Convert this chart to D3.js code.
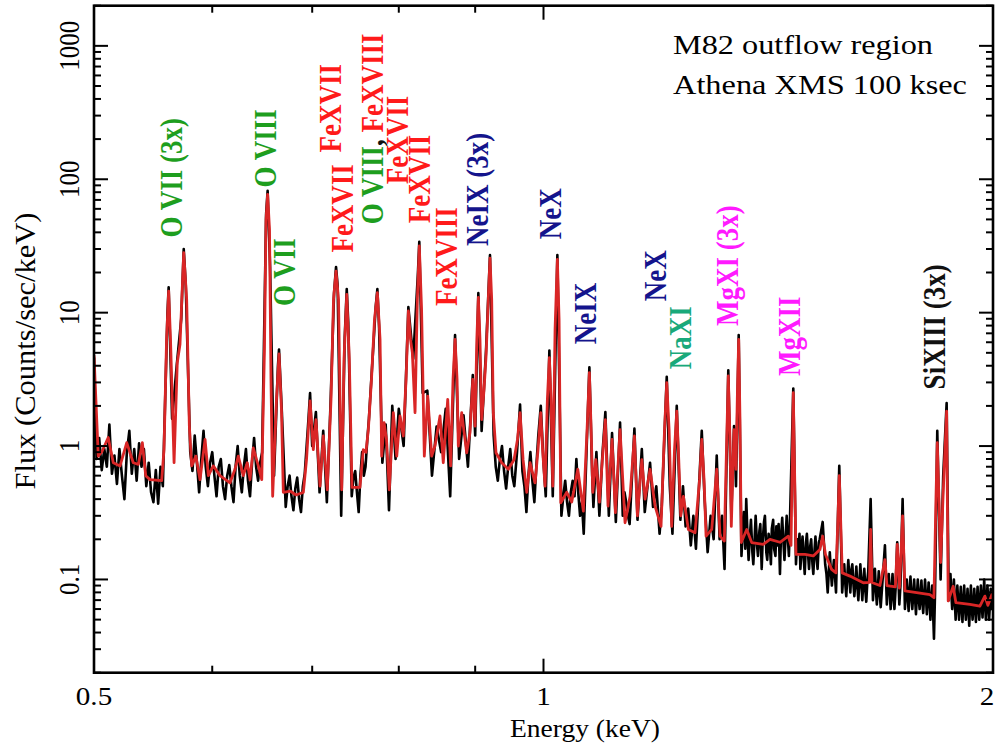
<!DOCTYPE html>
<html>
<head>
<meta charset="utf-8">
<script src="https://cdn.jsdelivr.net/npm/d3@7"></script>
<style>
  body { margin: 0; background: #fff; }
  svg { display: block; }
  text { font-family: "Liberation Serif", "Times New Roman", serif; }
</style>
</head>
<body>
<svg id="spectrum" width="995" height="744"></svg>
<script>
// Model curve (red), keV and counts/sec/keV
const modelEnergy = [0.500,0.5033,0.5062,0.5111,0.5151,0.5205,0.5259,0.5312,0.5354,0.5387,
  0.5415,0.5451,0.5550,0.5570,0.5592,0.5610,0.5626,0.5657,0.5685,0.5709,
  0.5742,0.5768,0.5792,0.5813,0.5851,0.5888,0.5934,0.5964,0.6010,0.6072,
  0.6167,0.6214,0.6246,0.6294,0.6333,0.6360,0.6392,0.6442,0.6476,0.6503,
  0.6519,0.6535,0.6554,0.6569,0.6586,0.6625,0.6651,0.6676,0.6695,0.6765,
  0.6828,0.6905,0.6939,0.6977,0.7012,0.7041,0.7085,0.7121,0.7165,0.7206,
  0.7234,0.7262,0.7290,0.7310,0.7326,0.7352,0.7383,0.7412,0.7443,0.7535,
  0.7574,0.7605,0.7633,0.7670,0.7706,0.7740,0.7772,0.7792,0.7820,0.7850,
  0.7884,0.7933,0.7975,0.8015,0.8056,0.8090,0.8119,0.8146,0.8169,0.8203,
  0.8232,0.8257,0.8286,0.8321,0.8365,0.8416,0.8459,0.8525,0.8568,0.8627,
  0.8666,0.8698,0.8725,0.8752,0.8769,0.8815,0.8883,0.8929,0.8967,0.8998,
  0.9023,0.9044,0.9067,0.9091,0.9124,0.9152,0.9184,0.9208,0.9232,0.9255,
  0.9294,0.9376,0.9472,0.9556,0.9607,0.9645,0.9690,0.9745,0.9795,0.9871,
  0.9916,0.9958,0.9986,1.0024,1.0060,1.0091,1.0117,1.0144,1.0180,1.0216,
  1.0243,1.0270,1.0365,1.0445,1.0543,1.0634,1.0695,1.0733,1.0762,1.0790,
  1.0840,1.0900,1.0950,1.1001,1.1046,1.1115,1.1172,1.1253,1.1340,1.1428,
  1.1505,1.1558,1.1637,1.1695,1.1786,1.1877,1.1987,1.2052,1.2093,1.2137,
  1.2186,1.2239,1.2281,1.2319,1.2357,1.2407,1.2503,1.2633,1.2721,1.2764,
  1.2809,1.2849,1.2962,1.3062,1.3129,1.3216,1.3260,1.3297,1.3332,1.3359,
  1.3415,1.3456,1.3483,1.3512,1.3539,1.3566,1.3680,1.3786,1.4034,1.4180,
  1.4400,1.4586,1.4647,1.4699,1.4760,1.4966,1.5159,1.5316,1.5380,1.5447,
  1.5594,1.5699,1.5746,1.5779,1.5812,1.5852,1.6041,1.6373,1.6530,1.6561,
  1.6594,1.6800,1.6930,1.6982,1.7206,1.7254,1.7313,1.7398,1.7461,1.7732,
  1.8147,1.8259,1.8316,1.8353,1.8400,1.8448,1.8522,1.8620,1.8665,1.8809,
  1.8888,1.9300,1.9600,1.9751,1.9843,2.000];
const modelFlux = [4.79,0.84,0.91,1.16,0.75,0.71,1.06,0.75,0.73,1.06,
  0.60,0.56,0.55,0.94,6.3,14.5,6.3,0.75,4.2,5.8,
  28.2,12.6,1.41,0.71,0.84,0.56,1.12,0.60,0.71,0.60,
  0.53,0.67,0.84,0.60,0.75,0.56,0.97,0.71,0.56,5.3,
  50,77,42,3.2,0.42,2.24,4.9,1.88,0.45,0.46,
  0.43,0.45,0.79,2.18,0.94,1.58,0.50,1.19,0.47,2.24,
  12.6,20.5,12.6,1.58,0.47,4.5,13.7,4.5,0.49,0.49,
  0.94,0.90,1.33,3.16,8.9,14.1,6.3,0.84,1.50,1.12,
  0.47,1.78,0.84,1.68,1.19,3.16,10.3,6.3,5.0,1.78,
  12.6,31.6,10.6,0.84,2.37,0.84,1.0,1.68,0.75,2.24,
  0.71,3.16,6.3,3.16,1.0,1.78,0.89,1.27,3.16,1.41,
  6.3,13.0,6.3,1.58,2.66,4.7,12.6,25.6,12.6,1.78,
  0.89,0.75,0.67,0.79,1.12,1.78,0.79,0.45,0.75,0.53,
  0.94,1.78,0.94,0.50,2.24,4.6,2.24,0.50,7.5,25.1,
  8.9,0.376,0.45,0.38,0.67,0.325,1.33,3.55,1.33,0.45,
  0.79,0.38,0.79,1.58,0.355,1.12,0.317,1.33,0.266,0.42,
  1.19,0.30,0.79,0.40,0.67,0.355,0.25,1.33,2.99,1.33,
  0.25,0.94,1.83,0.79,0.30,0.42,0.237,0.224,0.56,1.12,
  0.56,0.211,0.237,0.67,0.211,0.194,0.94,3.35,1.12,0.25,
  1.33,0.67,2.24,6.3,1.58,0.189,0.237,0.189,0.183,0.20,
  0.19,0.211,0.18,2.51,0.154,0.154,0.150,0.168,0.211,0.154,
  0.119,0.112,0.28,0.60,0.28,0.112,0.106,0.0945,0.095,0.237,
  0.095,0.090,0.141,0.090,0.088,0.183,0.086,0.30,0.082,0.080,
  0.077,0.073,0.40,1.06,0.40,0.134,0.45,1.83,0.069,0.089,
  0.067,0.065,0.063,0.075,0.064,0.081];

// Observed counts (black), [keV, counts/sec/keV]
const observed = [
  [0.500,4.6],[0.502,0.8],[0.504,1.15],[0.506,0.66],[0.508,0.95],[0.510,0.7],[0.512,1.45],[0.514,0.62],
  [0.516,0.85],[0.518,0.52],[0.520,0.95],[0.522,0.6],[0.524,0.4],[0.526,0.9],[0.528,1.3],[0.530,0.62],
  [0.532,0.95],[0.534,0.55],[0.536,1.05],[0.538,0.7],[0.540,0.95],[0.542,0.5],[0.544,0.75],[0.546,0.45],
  [0.548,0.38],[0.550,0.66],[0.552,0.37],[0.554,0.7],[0.556,0.5],[0.560,10],[0.561,15.5],[0.564,1.6],
  [0.568,4.0],[0.572,9],[0.5742,30],[0.576,16],
  [0.580,0.9],[0.582,0.65],[0.584,1.2],[0.586,0.75],[0.588,0.45],[0.590,0.8],[0.592,1.3],[0.594,0.7],
  [0.596,0.5],[0.598,0.75],[0.600,0.9],[0.602,0.6],[0.604,0.42],[0.606,0.7],[0.608,0.8],[0.610,0.5],
  [0.612,0.4],[0.614,0.6],[0.616,0.72],[0.618,0.5],[0.620,0.38],[0.622,0.7],[0.624,1.0],[0.626,0.6],
  [0.628,0.45],[0.630,0.7],[0.632,0.95],[0.634,0.55],[0.636,0.42],[0.638,0.75],[0.640,1.15],[0.642,0.7],
  [0.644,0.55],[0.646,0.75],[0.648,0.9],[0.652,55],[0.6535,82],[0.656,22],[0.660,0.6],[0.664,4.0],
  [0.6651,5.3],[0.668,1.8],[0.672,0.35],[0.674,0.5],[0.676,0.6],[0.678,0.42],[0.680,0.33],[0.682,0.48],
  [0.684,0.58],[0.686,0.4],[0.688,0.32],[0.690,0.5],[0.692,0.62],[0.696,1.6],
  [0.6977,2.5],[0.700,1.0],[0.704,1.8],[0.708,0.45],[0.712,1.3],[0.716,0.38],[0.720,2.0],[0.724,14],
  [0.7262,22],[0.728,16],[0.732,0.3],[0.736,6.5],[0.7383,15],[0.740,8.5],[0.744,0.42],[0.746,0.58],
  [0.748,0.65],[0.750,0.45],[0.752,0.32],[0.754,0.6],[0.756,0.9],[0.758,0.6],[0.760,0.7],[0.762,1.1],
  [0.764,1.6],[0.768,4.2],[0.772,11],[0.774,15],[0.776,8],
  [0.780,0.75],[0.784,1.45],[0.788,0.33],[0.792,2.0],[0.796,0.8],[0.800,1.9],[0.806,1.0],[0.8119,11],
  [0.818,4.5],[0.824,20],[0.8257,34],[0.830,2.5],[0.836,2.6],[0.842,0.6],[0.848,1.4],[0.854,0.9],
  [0.860,1.9],[0.866,0.42],[0.8725,6.8],[0.878,0.8],[0.884,1.7],[0.890,0.7],[0.8967,3.4],[0.900,1.2],
  [0.9044,14],[0.909,1.3],[0.9152,5.2],[0.9208,27],[0.926,1.2],[0.929,0.7],[0.932,0.55],[0.935,0.8],
  [0.938,1.0],[0.941,0.65],[0.944,0.48],[0.947,0.7],[0.950,0.95],[0.953,0.6],[0.956,0.5],[0.960,0.9],
  [0.9645,2.05],[0.968,0.65],[0.971,0.5],[0.974,0.32],[0.977,0.6],[0.980,0.9],[0.983,0.55],[0.986,0.38],
  [0.989,0.7],[0.992,1.2],[0.9958,2.0],[1.000,0.75],[1.0035,0.42],[1.0091,5.2],[1.0144,0.42],[1.0216,27],
  [1.028,0.3],[1.031,0.42],[1.034,0.55],[1.037,0.38],[1.040,0.3],[1.043,0.45],[1.046,0.55],[1.049,0.42],
  [1.052,0.8],[1.055,0.45],[1.058,0.3],[1.061,0.38],[1.064,0.22],[1.0733,3.9],[1.078,0.6],[1.080,0.35],
  [1.085,0.9],[1.090,0.3],[1.095,0.85],[1.1001,1.8],[1.106,0.3],[1.1115,1.25],[1.118,0.27],[1.1253,1.5],
  [1.130,0.3],[1.133,0.45],[1.136,0.38],[1.139,0.3],[1.142,0.26],[1.1505,1.35],[1.156,0.28],[1.1637,0.95],
  [1.169,0.32],[1.1786,0.75],[1.184,0.35],[1.190,0.5],[1.196,0.22],[1.200,0.35],[1.2093,3.3],[1.215,0.5],
  [1.220,0.22],[1.2281,2.0],[1.235,0.28],[1.240,0.5],[1.245,0.25],[1.250,0.34],[1.255,0.18],[1.260,0.3],
  [1.265,0.17],[1.2764,1.3],[1.282,0.4],[1.288,0.16],[1.294,0.3],[1.300,0.2],[1.3062,0.85],[1.312,0.2],
  [1.317,0.3],[1.322,0.12],[1.3297,3.7],[1.3359,0.3],[1.3415,1.41],[1.3456,0.5],[1.3512,6.8],
  [1.357,0.15],[1.360,0.24],[1.362,0.32],[1.365,0.17],[1.367,0.4],[1.370,0.2],[1.372,0.14],[1.375,0.22],
  [1.377,0.28],[1.380,0.16],[1.382,0.13],[1.385,0.21],[1.387,0.3],[1.390,0.18],[1.392,0.15],[1.395,0.23],
  [1.397,0.26],[1.400,0.12],[1.402,0.19],[1.405,0.27],[1.407,0.3],[1.410,0.16],[1.412,0.14],[1.415,0.22],
  [1.417,0.2],[1.420,0.13],[1.422,0.24],[1.425,0.28],[1.427,0.17],[1.430,0.15],[1.432,0.25],[1.435,0.18],
  [1.437,0.26],[1.440,0.11],[1.442,0.2],[1.445,0.29],[1.447,0.21],[1.450,0.14],[1.452,0.19],[1.455,0.3],
  [1.457,0.22],[1.460,0.15],[1.462,0.25],[1.4699,2.7],
  [1.476,0.13],[1.479,0.2],[1.481,0.16],[1.484,0.22],[1.486,0.12],[1.489,0.17],[1.491,0.21],[1.494,0.14],
  [1.496,0.11],[1.499,0.19],[1.501,0.22],[1.504,0.15],[1.506,0.12],[1.509,0.18],[1.511,0.2],[1.514,0.13],
  [1.516,0.11],[1.519,0.17],[1.521,0.21],[1.524,0.14],[1.526,0.12],[1.529,0.19],[1.531,0.2],
  [1.538,0.27],[1.544,0.13],[1.547,0.11],[1.550,0.08],[1.553,0.12],[1.555,0.16],[1.558,0.11],[1.560,0.09],
  [1.563,0.12],[1.565,0.14],[1.568,0.1],[1.570,0.08],[1.5779,0.71],
  [1.585,0.08],[1.588,0.11],[1.590,0.13],[1.593,0.09],[1.595,0.075],[1.598,0.11],[1.600,0.14],[1.603,0.1],
  [1.605,0.08],[1.608,0.12],[1.610,0.13],[1.613,0.09],[1.615,0.075],[1.618,0.1],[1.620,0.125],[1.623,0.085],
  [1.625,0.07],[1.628,0.1],[1.630,0.13],[1.633,0.09],[1.635,0.07],[1.638,0.1],[1.640,0.12],[1.643,0.08],
  [1.645,0.068],[1.648,0.1],[1.650,0.115],[1.6561,0.40],[1.662,0.07],[1.665,0.1],[1.667,0.12],[1.670,0.08],
  [1.672,0.065],[1.675,0.09],[1.677,0.115],[1.680,0.075],[1.682,0.062],[1.687,0.1],[1.693,0.18],
  [1.698,0.065],[1.700,0.09],[1.703,0.11],[1.706,0.075],[1.708,0.06],[1.711,0.09],[1.713,0.11],[1.716,0.07],
  [1.718,0.06],[1.721,0.085],[1.7254,0.19],[1.731,0.065],[1.734,0.09],[1.7398,0.40],[1.746,0.06],[1.749,0.085],
  [1.751,0.1],[1.754,0.07],[1.756,0.058],[1.759,0.085],[1.761,0.105],[1.764,0.072],[1.766,0.06],[1.769,0.08],
  [1.771,0.1],[1.774,0.068],[1.776,0.055],[1.779,0.08],[1.781,0.1],[1.784,0.07],[1.786,0.06],[1.789,0.08],
  [1.791,0.098],[1.794,0.065],[1.796,0.056],[1.799,0.08],[1.801,0.1],[1.804,0.07],[1.806,0.055],[1.809,0.075],
  [1.811,0.095],[1.814,0.065],[1.816,0.05],[1.819,0.075],[1.821,0.09],[1.826,0.036],[1.829,0.08],
  [1.8353,1.3],[1.840,0.35],[1.8448,0.1],[1.8522,0.6],[1.862,2.1],
  [1.868,0.07],[1.870,0.09],[1.873,0.11],[1.876,0.075],[1.878,0.06],[1.881,0.08],[1.883,0.1],[1.886,0.065],
  [1.888,0.05],[1.891,0.07],[1.893,0.09],[1.896,0.065],[1.898,0.05],[1.901,0.07],[1.903,0.088],[1.906,0.06],
  [1.908,0.048],[1.911,0.07],[1.913,0.09],[1.916,0.062],[1.918,0.05],[1.921,0.068],[1.923,0.085],[1.926,0.058],
  [1.928,0.045],[1.931,0.07],[1.933,0.09],[1.936,0.06],[1.938,0.05],[1.941,0.065],[1.943,0.085],[1.946,0.06],
  [1.948,0.048],[1.951,0.07],[1.953,0.088],[1.956,0.062],[1.958,0.05],[1.961,0.07],[1.963,0.09],[1.966,0.063],
  [1.968,0.052],[1.971,0.075],[1.973,0.1],[1.976,0.065],[1.978,0.05],[1.981,0.07],[1.983,0.09],[1.986,0.062],
  [1.988,0.05],[1.991,0.068],[1.993,0.085],[1.996,0.06],[2.000,0.07]
];

const yMajor = [0.1, 1, 10, 100, 1000];
const yMajorLabels = ['0.1', '1', '10', '100', '1000'];
const xMajor = [0.5, 1, 2];
const xMajorLabels = ['0.5', '1', '2'];
const xMinor = [0.6, 0.7, 0.8, 0.9];

const GREEN = '#1e9e1e', RED = '#ff1a1a', NAVY = '#14148c', TEAL = '#19a97a', MAGENTA = '#ff1aff', INK = '#111';

// line identifications: energy / flux where the label text starts
const lineLabels = [
  { parts: [['O VII (3x)', GREEN]], e: 0.5727, f: 36.6 },
  { parts: [['O VIII', GREEN]], e: 0.6620, f: 86.7 },
  { parts: [['O VII', GREEN]], e: 0.6817, f: 11.2 },
  { parts: [['FeXVII', RED]], e: 0.7315, f: 158.7 },
  { parts: [['FeXVII', RED]], e: 0.7455, f: 28.2 },
  { parts: [['O VIII', GREEN], [',', INK], [' FeXVIII', RED]], e: 0.7808, f: 46 },
  { parts: [['FeXVII', RED]], e: 0.8114, f: 91.8 },
  { parts: [['FeXVII', RED]], e: 0.8395, f: 46.8 },
  { parts: [['FeXVIII', RED]], e: 0.8747, f: 11.2 },
  { parts: [['NeIX (3x)', NAVY]], e: 0.9179, f: 31.6 },
  { parts: [['NeX', NAVY]], e: 1.0274, f: 35.5 },
  { parts: [['NeIX', NAVY]], e: 1.0843, f: 5.8 },
  { parts: [['NeX', NAVY]], e: 1.2079, f: 12.2 },
  { parts: [['NaXI', TEAL]], e: 1.2554, f: 3.76 },
  { parts: [['MgXI (3x)', MAGENTA]], e: 1.3497, f: 7.94 },
  { parts: [['MgXII', MAGENTA]], e: 1.4852, f: 3.35 },
  { parts: [['SiXIII (3x)', INK]], e: 1.8572, f: 2.66 }
];

const notes = ['M82 outflow region', 'Athena XMS 100 ksec'];

const svg = d3.select('#spectrum');
const frame = { left: 94, right: 993, top: 5.7, bottom: 672.7 };
const stretch = 1.165;

const x = d3.scaleLog().domain([0.5, 2]).range([frame.left, frame.right]);
const y = d3.scaleLog().domain([0.02, 2000]).range([frame.bottom, frame.top]);

svg.append('defs')
  .append('clipPath')
  .attr('id', 'plotClip')
  .append('rect')
  .attr('x', frame.left)
  .attr('y', frame.top)
  .attr('width', frame.right - frame.left)
  .attr('height', frame.bottom - frame.top);

const plot = svg.append('g').attr('clip-path', 'url(#plotClip)');
const line = d3.line().x(d => x(d[0])).y(d => y(d[1]));

plot.append('path')
  .datum(observed)
  .attr('fill', 'none')
  .attr('stroke', '#000')
  .attr('stroke-width', 2.6)
  .attr('stroke-linejoin', 'round')
  .attr('d', line);

plot.append('path')
  .datum(modelEnergy.map((e, i) => [e, modelFlux[i]]))
  .attr('fill', 'none')
  .attr('stroke', '#d92626')
  .attr('stroke-width', 2.8)
  .attr('stroke-linejoin', 'round')
  .attr('d', line);

// Ticks: inward on all four sides
const yMinor = [];
[0.01, 0.1, 1, 10, 100, 1000].forEach(dec => {
  d3.range(2, 10).forEach(k => {
    const v = dec * k;
    if (v >= 0.02 && v <= 2000) yMinor.push(v);
  });
});
const ticks = svg.append('g').attr('stroke', '#000').attr('stroke-width', 2);
const yTickData = yMajor.map(v => [v, 14]).concat(yMinor.map(v => [v, 7]));
ticks.selectAll('line.yl')
  .data(yTickData)
  .join('line')
  .attr('class', 'yl')
  .attr('x1', frame.left).attr('x2', d => frame.left + d[1])
  .attr('y1', d => y(d[0])).attr('y2', d => y(d[0]));
ticks.selectAll('line.yr')
  .data(yTickData)
  .join('line')
  .attr('class', 'yr')
  .attr('x1', frame.right).attr('x2', d => frame.right - d[1])
  .attr('y1', d => y(d[0])).attr('y2', d => y(d[0]));
const xTickData = [[1, 14]].concat(xMinor.map(v => [v, 7]));
ticks.selectAll('line.xb')
  .data(xTickData)
  .join('line')
  .attr('class', 'xb')
  .attr('x1', d => x(d[0])).attr('x2', d => x(d[0]))
  .attr('y1', frame.bottom).attr('y2', d => frame.bottom - d[1]);
ticks.selectAll('line.xt')
  .data(xTickData)
  .join('line')
  .attr('class', 'xt')
  .attr('x1', d => x(d[0])).attr('x2', d => x(d[0]))
  .attr('y1', frame.top).attr('y2', d => frame.top + d[1]);

svg.append('rect')
  .attr('x', frame.left).attr('y', frame.top)
  .attr('width', frame.right - frame.left)
  .attr('height', frame.bottom - frame.top)
  .attr('fill', 'none')
  .attr('stroke', '#000')
  .attr('stroke-width', 2.6);

// Tick labels
svg.append('g')
  .selectAll('text')
  .data(yMajor)
  .join('text')
  .attr('transform', d => `translate(79,${y(d)}) rotate(-90) scale(1,${stretch})`)
  .attr('text-anchor', 'middle')
  .attr('font-size', 25)
  .attr('fill', '#000')
  .text((d, i) => yMajorLabels[i]);

svg.append('g')
  .selectAll('text')
  .data(xMajor)
  .join('text')
  .attr('transform', d => `translate(${Math.min(x(d), 987)},705) scale(${stretch},1)`)
  .attr('text-anchor', 'middle')
  .attr('font-size', 25)
  .attr('fill', '#000')
  .text((d, i) => xMajorLabels[i]);

// Axis titles
svg.append('text')
  .attr('x', 585).attr('y', 737)
  .attr('text-anchor', 'middle')
  .attr('font-size', 26)
  .attr('textLength', 150)
  .attr('lengthAdjust', 'spacingAndGlyphs')
  .text('Energy (keV)');

svg.append('text')
  .attr('transform', `translate(35,351) rotate(-90) scale(1,1.1)`)
  .attr('text-anchor', 'middle')
  .attr('font-size', 27)
  .attr('textLength', 277)
  .attr('lengthAdjust', 'spacingAndGlyphs')
  .text('Flux (Counts/sec/keV)');

// Top-right note
svg.append('g')
  .selectAll('text')
  .data(notes)
  .join('text')
  .attr('x', 673)
  .attr('y', (d, i) => 53.5 + i * 40)
  .attr('font-size', 27.5)
  .attr('textLength', (d, i) => (i === 0 ? 260 : 294))
  .attr('lengthAdjust', 'spacingAndGlyphs')
  .text(d => d);

// Line identifications
const labelText = svg.append('g')
  .selectAll('text')
  .data(lineLabels)
  .join('text')
  .attr('transform', d => `translate(${x(d.e)},${y(d.f)}) rotate(-90) scale(1,${stretch})`)
  .attr('font-size', 27)
  .attr('font-weight', 'bold');

labelText.selectAll('tspan')
  .data(d => d.parts)
  .join('tspan')
  .attr('fill', d => d[1])
  .text(d => d[0]);
</script>
</body>
</html>
